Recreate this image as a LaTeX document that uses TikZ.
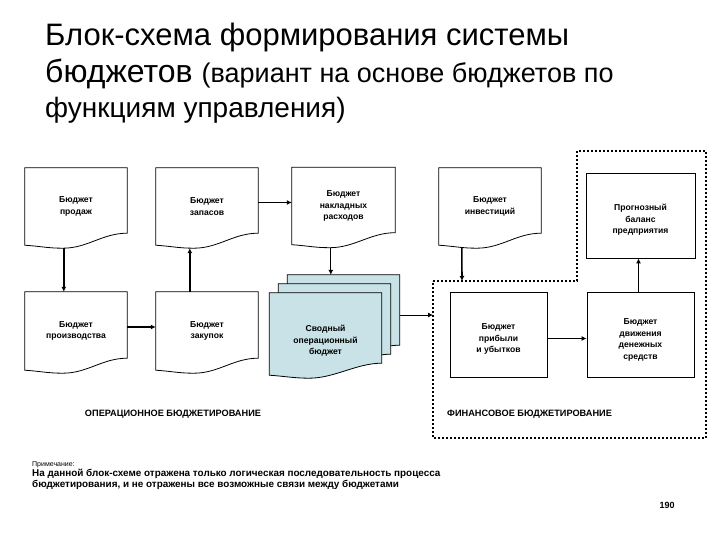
\documentclass[tikz,border=0pt]{standalone}
\usepackage{fontspec}
\setmainfont{Liberation Sans}
\usetikzlibrary{arrows.meta,calc}
\definecolor{stackfill}{RGB}{200,226,232}
\newcommand\docoutline[3][]{%
  \draw[line width=0.8pt,#1] (#2.north west) -- (#2.north east) -- ($(#2.south east)+(0,-12)$)
    .. controls +(-25,0) and +(25,0) .. ($(#2.south west)+(#3,3)$)
    .. controls +(-15,0) and +(15,1) .. (#2.south west) -- cycle;}
\begin{document}
\begin{tikzpicture}[x=1pt,y=-1pt,
  boxtxt/.style={font=\fontsize{8.6}{11.5}\selectfont\bfseries, align=center, inner sep=0pt},
  docbox/.style={boxtxt, minimum width=102pt, minimum height=77pt},
  stackpage/.style={minimum width=112pt, minimum height=82pt, inner sep=0pt},
  rectbox/.style={draw, line width=0.8pt, inner sep=0pt},
  thk/.style={line width=1.6pt, -{Latex[length=5pt,width=5pt]}},
  thn/.style={line width=0.8pt, -{Latex[length=5pt,width=5pt]}},
  dotline/.style={line width=1.6pt, dash pattern=on 2pt off 2pt},
  sectlabel/.style={font=\fontsize{9.2}{11}\selectfont\bfseries, inner sep=0pt},
]
\useasboundingbox (0,0) rectangle (720,540);

% title
\node[anchor=base west, inner sep=0pt, font=\fontsize{31}{34}\selectfont] (t1) at (45,46) {Блок-схема формирования системы};
\node[anchor=base west, inner sep=0pt] (t2) at (45,83) {\fontsize{32}{34}\selectfont бюджетов \fontsize{27}{30}\selectfont(вариант на основе бюджетов по};
\node[anchor=base west, inner sep=0pt, font=\fontsize{28}{30}\selectfont] (t3) at (45,118) {функциям управления)};

% document boxes
\node[docbox] (sales) at (76,206.5) {Бюджет\\продаж};
\node[docbox] (inv) at (207,206.5) {Бюджет\\запасов};
\node[docbox, minimum width=103pt] (over) at (343.5,206) {Бюджет\\накладных\\расходов};
\node[docbox] (invest) at (490,206.5) {Бюджет\\инвестиций};
\node[docbox, minimum height=78pt] (prod) at (76,331) {Бюджет\\производства};
\node[docbox, minimum height=78pt] (purch) at (207,331) {Бюджет\\закупок};
\docoutline{sales}{38}
\docoutline{inv}{38}
\docoutline{over}{38}
\docoutline{invest}{38}
\docoutline{prod}{38}
\docoutline{purch}{38}

% stack
\node[stackpage] (back) at (343.5,316) {};
\node[stackpage] (mid) at (334.5,325) {};
\node[stackpage] (front) at (325.5,334) {};
\docoutline[fill=stackfill]{back}{40}
\docoutline[fill=stackfill]{mid}{40}
\docoutline[fill=stackfill]{front}{40}
\node[boxtxt] (svod) at (325.5,341) {Сводный\\операционный\\бюджет};

% financial boxes
\node[rectbox, minimum width=109pt, minimum height=85pt] (bal) at (640.5,215.5) {};
\node[boxtxt] (baltxt) at (640.5,220) {Прогнозный\\баланс\\предприятия};
\node[rectbox, minimum width=97pt, minimum height=85pt] (pl) at (498.5,334.5) {};
\node[boxtxt] (pltxt) at (498.5,339) {Бюджет\\прибыли\\и убытков};
\node[rectbox, minimum width=107pt, minimum height=85pt] (cf) at (640.5,334.5) {};
\node[boxtxt] (cftxt) at (640.5,340) {Бюджет\\движения\\денежных\\средств};

% dotted region
\coordinate (fintop) at (462,281);
\coordinate (finleft) at (433,315);
\draw[dotline] (433,281) -- (577,281) -- (577,151) -- (706,151) -- (706,438) -- (433,438) -- cycle;

% connectors
\coordinate (salesb) at ($(sales.south west)+(39,3)$);
\coordinate (invb) at ($(inv.south west)+(34,3)$);
\coordinate (overb) at ($(over.south west)+(39,3)$);
\coordinate (investb) at ($(invest.south west)+(23,2)$);
\draw[thk] (salesb) -- (salesb |- prod.north);
\draw[thk] (invb |- purch.north) -- (invb);
\draw[thk] ([yshift=4pt]inv.east) -- ([yshift=4pt]inv.east -| over.west);
\draw[thk] ([yshift=4pt]prod.east) -- ([yshift=4pt]prod.east -| purch.west);
\draw[thn] (overb) -- (overb |- back.north);
\draw[thk] (investb) -- (fintop);
\draw[thn] (back.east |- finleft) -- (finleft);
\draw[thk] ([yshift=-4pt]pl.east) -- ([yshift=-4pt]pl.east -| cf.west);
\draw[thk] ([xshift=-2pt]cf.north) -- ([xshift=-2pt]cf.north |- bal.south);

% section labels
\node[sectlabel] (oplab) at (173,414) {ОПЕРАЦИОННОЕ БЮДЖЕТИРОВАНИЕ};
\node[sectlabel, anchor=west] (finlab) at (447,414) {ФИНАНСОВОЕ БЮДЖЕТИРОВАНИЕ};

% note
\node[anchor=base west, inner sep=0pt, font=\fontsize{7}{9}\selectfont] (note1) at (32,466) {Примечание:};
\node[anchor=north west, inner sep=0pt, align=left, font=\fontsize{9.9}{10.5}\selectfont\bfseries] (note2) at (32,469) {На данной блок-схеме отражена только логическая последовательность процесса\\бюджетирования, и не отражены все возможные связи между бюджетами};
\node[inner sep=0pt, font=\fontsize{9}{10}\selectfont\bfseries] (page) at (667,505) {190};
\end{tikzpicture}
\end{document}
